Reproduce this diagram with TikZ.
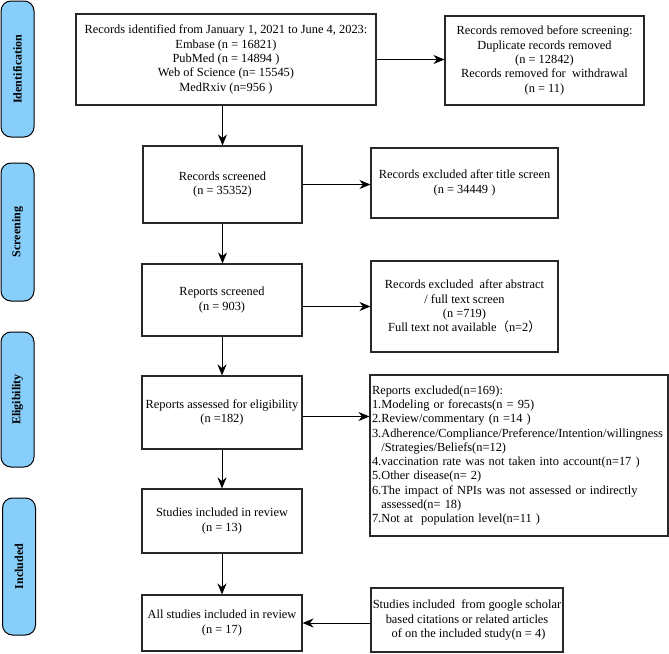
\documentclass[tikz,border=0pt]{standalone}
\usepackage{fontspec}
\setmainfont{Liberation Serif}
\newfontfamily\cjk{Noto Sans CJK SC}
\usetikzlibrary{arrows.meta}
\definecolor{barblue}{RGB}{135,206,250}
\definecolor{edge}{RGB}{40,40,40}
\tikzset{
  box/.style={draw=edge, line width=1.1pt, inner sep=0pt, align=center,
    font=\fontsize{12.4}{14.3}\selectfont},
  bar/.style={draw=black, line width=1pt, fill=barblue, rounded corners=10pt,
    minimum width=33pt, inner sep=0pt},
  barlabel/.style={rotate=90, font=\fontsize{12}{14}\selectfont\bfseries},
  arr/.style={draw=black, line width=1pt, -{Stealth[length=11pt,width=9pt]}}
}
\begin{document}
\begin{tikzpicture}[x=1pt,y=-1pt]
\useasboundingbox (0,0) rectangle (669,653);
% side bars
\node[bar, minimum height=136pt] (bid) at (17.5,69) {};
\node[barlabel] (lid) at (bid.center) {Identification};
\node[bar, minimum height=138pt] (bsc) at (17.5,232) {};
\node[barlabel] (lsc) at (bsc.center) {Screening};
\node[bar, minimum height=135pt] (bel) at (17.5,399.5) {};
\node[barlabel] (lel) at (bel.center) {Eligibility};
\node[bar, minimum height=137pt] (bin) at (19,566.5) {};
\node[barlabel] (lin) at (bin.center) {Included};
% main boxes
\node[box, minimum width=300pt, minimum height=91pt] (ident) at (226,59.5)
  {Records identified from January 1, 2021 to June 4, 2023:\\
   Embase (n = 16821)\\ PubMed (n = 14894 )\\ Web of Science (n= 15545)\\ MedRxiv (n=956 )};
\node[box, minimum width=199pt, minimum height=89pt] (removed) at (544.5,60.5)
  {Records removed before screening:\\ Duplicate records removed\\ (n = 12842)\\
   Records removed for\ \ withdrawal\\ (n = 11)};
\node[box, minimum width=159pt, minimum height=77pt] (screened) at (222.5,184.5)
  {Records screened\\ (n = 35352)};
\node[box, minimum width=187pt, minimum height=70pt] (exclt) at (464.5,183)
  {Records excluded after title screen\\ (n = 34449 )};
\node[box, minimum width=160pt, minimum height=72pt] (repscr) at (222,300)
  {Reports screened\\ (n = 903)};
\node[box, minimum width=187pt, minimum height=91pt] (excla) at (464.5,306.5)
  {Records excluded\ \ after abstract\\ / full text screen\\ (n =719)\\
   Full text not available{\cjk （}n=2{\cjk ）}};
\node[box, minimum width=160pt, minimum height=73pt] (elig) at (222,412.5)
  {Reports assessed for eligibility\\ (n =182)};
\node[box, minimum width=298pt, minimum height=161pt, align=left, text width=294pt] (repex) at (519,455.5)
  {Reports excluded(n=169):\\
   1.Modeling or forecasts(n = 95)\\
   2.Review/commentary (n =14 )\\
   3.Adherence/Compliance/Preference/Intention/willingness\\
   \phantom{3.}/Strategies/Beliefs(n=12)\\
   4.vaccination rate was not taken into account(n=17 )\\
   5.Other disease(n= 2)\\
   6.The impact of NPIs was not assessed or indirectly\\
   \phantom{6.}assessed(n= 18)\\
   7.Not at\ \ population level(n=11 )};
\node[box, minimum width=160pt, minimum height=64pt] (incl) at (222,521)
  {Studies included in review\\ (n = 13)};
\node[box, minimum width=160pt, minimum height=56pt] (all) at (222,623)
  {All studies included in review\\ (n = 17)};
\node[box, minimum width=192pt, minimum height=64pt] (google) at (467,620)
  {Studies included\ \ from google scholar\\ based citations or related articles\\
   \ of on the included study(n = 4)};
% connector anchors
\coordinate (eligout) at ([yshift=-4pt]elig.east);
\coordinate (googleout) at ([yshift=-3pt]google.west);
% connectors
\draw[arr] (ident.east) -- (removed.west |- ident.east);
\draw[arr] (ident.south -| screened.north) -- (screened.north);
\draw[arr] (screened.east) -- (exclt.west |- screened.east);
\draw[arr] (screened.south) -- (repscr.north -| screened.south);
\draw[arr] (repscr.east |- excla.west) -- (excla.west);
\draw[arr] (repscr.south) -- (elig.north);
\draw[arr] (eligout) -- (repex.west |- eligout);
\draw[arr] (elig.south) -- (incl.north);
\draw[arr] (incl.south) -- (all.north);
\draw[arr] (googleout) -- (all.east |- googleout);
\end{tikzpicture}
\end{document}
